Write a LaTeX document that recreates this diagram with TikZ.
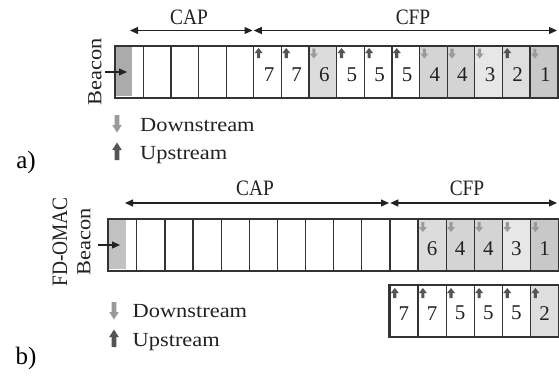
\documentclass[tikz,border=0pt]{standalone}
\usepackage{fontspec}
\setmainfont{Liberation Serif}
\newfontfamily\cf{Liberation Serif}[FakeStretch=1.12]
\newfontfamily\cnf{Liberation Serif}[FakeStretch=0.88]
\usetikzlibrary{arrows.meta}
\definecolor{frm}{HTML}{333333}
\definecolor{upc}{HTML}{555555}
\definecolor{dnc}{HTML}{9A9A9A}
\definecolor{gA}{HTML}{DCDCDC}
\definecolor{gB}{HTML}{D4D4D4}
\definecolor{gC}{HTML}{E7E7E7}
\definecolor{gD}{HTML}{DEDEDE}
\definecolor{gE}{HTML}{C8C8C8}
\definecolor{bcn}{HTML}{ABABAB}
\definecolor{bcnb}{HTML}{C2C2C2}
\definecolor{txt}{HTML}{222222}
\tikzset{
  cellbox/.style={draw=frm, line width=1.3pt, rectangle, inner sep=0pt, minimum height=51pt, anchor=north west},
  digit/.style={font=\fontsize{21}{21}\selectfont, text=txt, inner sep=0pt},
  word/.style={font=\cf\fontsize{20}{20}\selectfont, text=txt, inner sep=0pt},
  capw/.style={font=\cnf\fontsize{22}{22}\selectfont, text=txt, inner sep=0pt},
  sublbl/.style={font=\fontsize{25}{25}\selectfont, text=black, inner sep=0pt},
  span/.style={draw=txt, line width=1.2pt, {Triangle[length=8pt,width=7pt]}-{Triangle[length=8pt,width=7pt]}},
  bar/.style={draw=txt, line width=1.2pt, -{Triangle[length=8pt,width=7pt]}},
  outer/.style={draw=frm, line width=2.2pt},
  uarr/.pic={\fill[upc] (-1.6,0) -- (-1.6,-5) -- (-4,-5) -- (0,-10) -- (4,-5) -- (1.6,-5) -- (1.6,0) -- cycle;},
  darr/.pic={\fill[dnc] (-1.6,0) -- (-1.6,5) -- (-4,5) -- (0,10) -- (4,5) -- (1.6,5) -- (1.6,0) -- cycle;},
  luarr/.pic={\fill[upc] (-2.3,0) -- (-2.3,-10) -- (-4.8,-10) -- (0,-17.5) -- (4.8,-10) -- (2.3,-10) -- (2.3,0) -- cycle;},
  ldarr/.pic={\fill[dnc] (-2.3,0) -- (-2.3,10) -- (-4.8,10) -- (0,17.5) -- (4.8,10) -- (2.3,10) -- (2.3,0) -- cycle;},
}
\begin{document}
\begin{tikzpicture}[x=1pt,y=-1pt]
\useasboundingbox (0,0) rectangle (559,375);
\fill[white] (0,0) rectangle (559,375);

% ---------- (a) ----------
\foreach \i/\f/\d/\a in {0/white/{}/0,1/white/{}/0,2/white/{}/0,3/white/{}/0,4/white/{}/0,
  5/white/7/1,6/white/7/1,7/gA/6/2,8/white/5/1,9/white/5/1,10/white/5/1,
  11/gB/4/2,12/gB/4/2,13/gC/3/2,14/gD/2/1,15/gE/1/2}{
  \pgfmathsetmacro\xx{115+27.625*\i}
  \node[cellbox, fill=\f, minimum width=27.625pt] (t\i) at (\xx,46) {};
  \node[digit] (td\i) at ([xshift=1.5pt,yshift=-2.5pt]t\i.center) {\d};
  \ifcase\a\or
    \pic at ([xshift=5.5pt,yshift=-12pt]t\i.north west) {uarr};
  \or
    \pic at ([xshift=5.5pt,yshift=-2.5pt]t\i.north west) {darr};
  \fi
}
\fill[bcn] (115.7,46.7) rectangle (132,96.3);
\draw[outer] (t0.north west) rectangle (t15.south east);

\coordinate (capL) at (130,30.5);
\coordinate (capR) at (252.5,30.5);
\coordinate (cfpL) at (253.8,30.5);
\coordinate (cfpR) at (557,30.5);
\draw[span] (capL) -- (capR);
\draw[span] (cfpL) -- (cfpR);
\node[capw] (capa) at (189,17.5) {CAP};
\node[capw] (cfpa) at (413,17.5) {CFP};

\node[word, rotate=90] (bea) at (95,72) {Beacon};
\coordinate (bearr) at (105,72);
\draw[bar] (bearr) -- (127,72) coordinate (beaend);

\pic at (117,115) {ldarr};
\pic at (117,160) {luarr};
\node[word, anchor=base west] (dsa) at (140,131) {Downstream};
\node[word, anchor=base west] (usa) at (140,159) {Upstream};
\node[sublbl] (la) at (26,162) {a)};

% ---------- (b) ----------
\foreach \i/\f/\d/\a in {0/white/{}/0,1/white/{}/0,2/white/{}/0,3/white/{}/0,4/white/{}/0,
  5/white/{}/0,6/white/{}/0,7/white/{}/0,8/white/{}/0,9/white/{}/0,10/white/{}/0,
  11/gA/6/2,12/gB/4/2,13/gB/4/2,14/gC/3/2,15/gE/1/2}{
  \pgfmathsetmacro\xx{108+28.125*\i}
  \node[cellbox, fill=\f, minimum width=28.125pt] (b\i) at (\xx,219) {};
  \node[digit] (bd\i) at ([yshift=-3pt]b\i.center) {\d};
  \ifcase\a\or
    \pic at ([xshift=5.5pt,yshift=-13pt]b\i.north west) {uarr};
  \or
    \pic at ([xshift=5.5pt,yshift=-3pt]b\i.north west) {darr};
  \fi
}
\fill[bcnb] (108.7,219.7) rectangle (126,269.3);
\draw[outer] (b0.north west) rectangle (b15.south east);

\foreach \i/\f/\d in {0/white/7,1/white/7,2/white/5,3/white/5,4/white/5,5/gD/2}{
  \pgfmathsetmacro\xx{389.25+28.125*\i}
  \node[cellbox, fill=\f, minimum width=28.125pt] (s\i) at (\xx,285) {};
  \node[digit] (sd\i) at ([yshift=-2pt]s\i.center) {\d};
  \pic at ([xshift=5.5pt,yshift=-13pt]s\i.north west) {uarr};
}
\draw[outer] (s0.north west) rectangle (s5.south east);

\coordinate (capLb) at (125,203);
\coordinate (capRb) at (389,203);
\coordinate (cfpLb) at (390.3,203);
\coordinate (cfpRb) at (557,203);
\draw[span] (capLb) -- (capRb);
\draw[span] (cfpLb) -- (cfpRb);
\node[capw] (capb) at (255,188) {CAP};
\node[capw] (cfpb) at (467,188) {CFP};

\node[capw, rotate=90] (fdo) at (60,242) {FD-OMAC};
\node[word, rotate=90] (beb) at (84,242) {Beacon};
\coordinate (bearrb) at (98,245);
\draw[bar] (bearrb) -- (120,245) coordinate (beaendb);

\pic at (114,302) {ldarr};
\pic at (114,347) {luarr};
\node[word, anchor=base west] (dsb) at (132.5,317) {Downstream};
\node[word, anchor=base west] (usb) at (132.5,346) {Upstream};
\node[sublbl] (lb) at (26,358) {b)};
\end{tikzpicture}
\end{document}
